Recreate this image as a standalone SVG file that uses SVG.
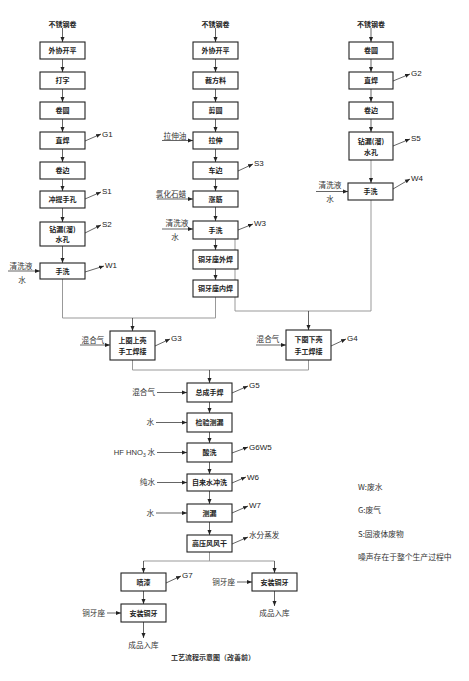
<svg xmlns="http://www.w3.org/2000/svg" width="469" height="681" viewBox="0 0 469 681">
<style>
.bx{fill:#fff;stroke:#222;stroke-width:1.1}
.t{font-family:"Noto Sans CJK SC","Liberation Sans",sans-serif;font-size:7px;font-weight:bold;text-anchor:middle;fill:#222}
.n{font-family:"Noto Sans CJK SC","Liberation Sans",sans-serif;font-size:7.6px;fill:#333}
.m{text-anchor:middle}
.e{text-anchor:end}
.g{font-family:"Liberation Sans","Noto Sans CJK SC",sans-serif;font-size:8px;fill:#222}
.a{stroke:#222;stroke-width:0.7;fill:none;marker-end:url(#ah)}
.l{stroke:#222;stroke-width:0.7;fill:none}
.r{stroke:#999;stroke-width:1;fill:none}
</style>
<defs>
<marker id="ah" markerWidth="6" markerHeight="6" refX="5" refY="3" orient="auto" markerUnits="userSpaceOnUse">
<path d="M0,1 L5,3 L0,5 Z" fill="#222"/>
</marker>
</defs>
<rect width="469" height="681" fill="#fff"/>

<g id="connectors">
<!-- column 1 -->
<line class="a" x1="62.5" y1="28" x2="62.5" y2="42"/>
<line class="a" x1="62.5" y1="59" x2="62.5" y2="72"/>
<line class="a" x1="62.5" y1="89" x2="62.5" y2="102"/>
<line class="a" x1="62.5" y1="119" x2="62.5" y2="132"/>
<line class="a" x1="62.5" y1="149" x2="62.5" y2="162"/>
<line class="a" x1="62.5" y1="179" x2="62.5" y2="191"/>
<line class="a" x1="62.5" y1="208" x2="62.5" y2="222"/>
<line class="a" x1="62.5" y1="246" x2="62.5" y2="263"/>
<line class="a" x1="85" y1="141" x2="101" y2="134"/>
<line class="a" x1="85" y1="199" x2="101" y2="192"/>
<line class="a" x1="85" y1="233" x2="101" y2="225"/>
<line class="a" x1="85" y1="272" x2="104" y2="266"/>
<line class="a" x1="8" y1="271" x2="40" y2="271"/>
<!-- column 2 -->
<line class="a" x1="215.5" y1="28" x2="215.5" y2="42"/>
<line class="a" x1="215.5" y1="59" x2="215.5" y2="72"/>
<line class="a" x1="215.5" y1="89" x2="215.5" y2="102"/>
<line class="a" x1="215.5" y1="119" x2="215.5" y2="132"/>
<line class="a" x1="215.5" y1="149" x2="215.5" y2="162"/>
<line class="a" x1="215.5" y1="179" x2="215.5" y2="191"/>
<line class="a" x1="215.5" y1="207" x2="215.5" y2="221"/>
<line class="a" x1="215.5" y1="239" x2="215.5" y2="250"/>
<line class="a" x1="215.5" y1="269" x2="215.5" y2="280"/>
<line class="a" x1="162" y1="140.5" x2="193" y2="140.5"/>
<line class="a" x1="157" y1="199" x2="193" y2="199"/>
<line class="a" x1="162" y1="229" x2="193" y2="229"/>
<line class="a" x1="238" y1="171" x2="253" y2="164"/>
<line class="a" x1="238" y1="230" x2="253" y2="224"/>
<!-- column 3 -->
<line class="a" x1="371" y1="28" x2="371" y2="42"/>
<line class="a" x1="371" y1="59" x2="371" y2="72"/>
<line class="a" x1="371" y1="89" x2="371" y2="102"/>
<line class="a" x1="371" y1="119" x2="371" y2="132"/>
<line class="r" x1="371" y1="160" x2="371" y2="179"/>
<line class="a" x1="371" y1="178" x2="371" y2="183"/>
<line class="a" x1="393" y1="81" x2="410" y2="74"/>
<line class="a" x1="393" y1="146" x2="410" y2="139"/>
<line class="a" x1="393" y1="189" x2="410" y2="179"/>
<line class="a" x1="316" y1="191.5" x2="348" y2="191.5"/>
<!-- routing to welds -->
<polyline class="r" points="62.5,279 62.5,318 215.5,318 215.5,297"/>
<line class="a" x1="132.5" y1="318" x2="132.5" y2="331"/>
<polyline class="r" points="235,239 235,311 371,311 371,200"/>
<line class="a" x1="308.5" y1="311" x2="308.5" y2="330"/>
<line class="a" x1="80" y1="345" x2="110" y2="345"/>
<line class="a" x1="256" y1="345" x2="286" y2="345"/>
<line class="a" x1="155" y1="346" x2="170" y2="339"/>
<line class="a" x1="331" y1="346" x2="346" y2="339"/>
<polyline class="r" points="132.5,360 132.5,370 308.5,370 308.5,360"/>
<line class="a" x1="209.5" y1="370" x2="209.5" y2="383"/>
<!-- main column -->
<line class="a" x1="209.5" y1="402" x2="209.5" y2="413"/>
<line class="a" x1="209.5" y1="432" x2="209.5" y2="443"/>
<line class="a" x1="209.5" y1="462" x2="209.5" y2="474"/>
<line class="a" x1="209.5" y1="491" x2="209.5" y2="504"/>
<line class="a" x1="209.5" y1="522" x2="209.5" y2="535"/>
<line class="a" x1="157" y1="392.5" x2="187" y2="392.5"/>
<line class="a" x1="156" y1="422.5" x2="187" y2="422.5"/>
<line class="a" x1="157" y1="452.5" x2="187" y2="452.5"/>
<line class="a" x1="157" y1="482.5" x2="187" y2="482.5"/>
<line class="a" x1="156" y1="513" x2="187" y2="513"/>
<line class="a" x1="232" y1="393" x2="248" y2="386"/>
<line class="a" x1="232" y1="453" x2="248" y2="447"/>
<line class="a" x1="232" y1="483" x2="246" y2="477"/>
<line class="a" x1="232" y1="513" x2="248" y2="506"/>
<line class="a" x1="232" y1="544" x2="248" y2="537"/>
<polyline class="r" points="209.5,552 209.5,561"/>
<line class="r" x1="143.5" y1="561" x2="274.5" y2="561"/>
<line class="a" x1="143.5" y1="561" x2="143.5" y2="573"/>
<line class="a" x1="274.5" y1="561" x2="274.5" y2="573"/>
<line class="a" x1="143.5" y1="591" x2="143.5" y2="604"/>
<line class="a" x1="143.5" y1="622" x2="143.5" y2="638"/>
<line class="a" x1="274.5" y1="591" x2="274.5" y2="606"/>
<line class="a" x1="166" y1="583" x2="181" y2="576"/>
<line class="a" x1="237" y1="582" x2="252" y2="582"/>
<line class="a" x1="107" y1="613" x2="121" y2="613"/>
</g>

<!-- column 1 -->
<text class="t" x="62.5" y="26.5">不锈钢卷</text>
<g id="c1n1"><rect class="bx" x="40" y="42" width="45" height="17"/><text class="t" x="62.5" y="53">外协开平</text></g>
<g id="c1n2"><rect class="bx" x="40" y="72" width="45" height="17"/><text class="t" x="62.5" y="83">打字</text></g>
<g id="c1n3"><rect class="bx" x="40" y="102" width="45" height="17"/><text class="t" x="62.5" y="113">卷圆</text></g>
<g id="c1n4"><rect class="bx" x="40" y="132" width="45" height="17"/><text class="t" x="62.5" y="143">直焊</text></g>
<g id="c1n5"><rect class="bx" x="40" y="162" width="45" height="17"/><text class="t" x="62.5" y="173">卷边</text></g>
<g id="c1n6"><rect class="bx" x="40" y="191" width="45" height="17"/><text class="t" x="62.5" y="202">冲提手孔</text></g>
<g id="c1n7"><rect class="bx" x="40" y="222" width="45" height="24"/><text class="t" x="62.5" y="232">钻漏(溜)</text><text class="t" x="62.5" y="242">水孔</text></g>
<g id="c1n8"><rect class="bx" x="40" y="263" width="45" height="16"/><text class="t" x="62.5" y="273.5">手洗</text></g>
<text class="g" x="102" y="137">G1</text>
<text class="g" x="102" y="194">S1</text>
<text class="g" x="102" y="227">S2</text>
<text class="g" x="105" y="268">W1</text>
<text class="n m" x="21" y="269">清洗液</text>
<text class="n m" x="22" y="283">水</text>

<!-- column 2 -->
<text class="t" x="215.5" y="26.5">不锈钢卷</text>
<g id="c2n1"><rect class="bx" x="193" y="42" width="45" height="17"/><text class="t" x="215.5" y="53">外协开平</text></g>
<g id="c2n2"><rect class="bx" x="193" y="72" width="45" height="17"/><text class="t" x="215.5" y="83">裁方料</text></g>
<g id="c2n3"><rect class="bx" x="193" y="102" width="45" height="17"/><text class="t" x="215.5" y="113">剪圆</text></g>
<g id="c2n4"><rect class="bx" x="193" y="132" width="45" height="17"/><text class="t" x="215.5" y="143">拉伸</text></g>
<g id="c2n5"><rect class="bx" x="193" y="162" width="45" height="17"/><text class="t" x="215.5" y="173">车边</text></g>
<g id="c2n6"><rect class="bx" x="193" y="191" width="45" height="16"/><text class="t" x="215.5" y="201.5">涨筋</text></g>
<g id="c2n7"><rect class="bx" x="193" y="221" width="45" height="18"/><text class="t" x="215.5" y="232.5">手洗</text></g>
<g id="c2n8"><rect class="bx" x="193" y="250" width="45" height="19"/><text class="t" x="215.5" y="262">铜牙座外焊</text></g>
<g id="c2n9"><rect class="bx" x="193" y="280" width="45" height="17"/><text class="t" x="215.5" y="291">铜牙座内焊</text></g>
<text class="n m" x="175" y="138.5">拉伸油</text>
<text class="n m" x="171" y="196.5">氯化石蜡</text>
<text class="n m" x="177" y="226">清洗液</text>
<text class="n m" x="175" y="240">水</text>
<text class="g" x="254" y="166">S3</text>
<text class="g" x="254" y="226">W3</text>

<!-- column 3 -->
<text class="t" x="371" y="26.5">不锈钢卷</text>
<g id="c3n1"><rect class="bx" x="349" y="42" width="44" height="17"/><text class="t" x="371" y="53">卷圆</text></g>
<g id="c3n2"><rect class="bx" x="349" y="72" width="44" height="17"/><text class="t" x="371" y="83">直焊</text></g>
<g id="c3n3"><rect class="bx" x="349" y="102" width="44" height="17"/><text class="t" x="371" y="113">卷边</text></g>
<g id="c3n4"><rect class="bx" x="349" y="132" width="44" height="28"/><text class="t" x="371" y="144">钻漏(溜)</text><text class="t" x="371" y="155">水孔</text></g>
<g id="c3n5"><rect class="bx" x="348" y="183" width="45" height="17"/><text class="t" x="370.5" y="194">手洗</text></g>
<text class="g" x="411" y="76">G2</text>
<text class="g" x="411" y="141">S5</text>
<text class="g" x="411" y="181">W4</text>
<text class="n m" x="330" y="188">清洗液</text>
<text class="n m" x="330" y="202">水</text>

<!-- welds -->
<g id="w1"><rect class="bx" x="110" y="331" width="45" height="29"/><text class="t" x="132.5" y="343">上圈上壳</text><text class="t" x="132.5" y="354">手工焊接</text></g>
<g id="w2"><rect class="bx" x="286" y="330" width="45" height="30"/><text class="t" x="308.5" y="342">下圈下壳</text><text class="t" x="308.5" y="354">手工焊接</text></g>
<text class="n m" x="93" y="342.5">混合气</text>
<text class="n m" x="268" y="341.5">混合气</text>
<text class="g" x="171" y="341">G3</text>
<text class="g" x="347" y="341">G4</text>

<!-- main column -->
<g id="m1"><rect class="bx" x="187" y="383" width="45" height="19"/><text class="t" x="209.5" y="395">总成手焊</text></g>
<g id="m2"><rect class="bx" x="187" y="413" width="45" height="19"/><text class="t" x="209.5" y="425">检验测漏</text></g>
<g id="m3"><rect class="bx" x="187" y="443" width="45" height="19"/><text class="t" x="209.5" y="455">酸洗</text></g>
<g id="m4"><rect class="bx" x="187" y="474" width="45" height="17"/><text class="t" x="209.5" y="485">自来水冲洗</text></g>
<g id="m5"><rect class="bx" x="187" y="504" width="45" height="18"/><text class="t" x="209.5" y="515.5">测漏</text></g>
<g id="m6"><rect class="bx" x="187" y="535" width="45" height="17"/><text class="t" x="209.5" y="546">高压风风干</text></g>
<text class="n e" x="155" y="395">混合气</text>
<text class="n e" x="154" y="425">水</text>
<text class="n e" x="155" y="455"><tspan font-family="Liberation Sans,sans-serif">HF  HNO</tspan><tspan font-family="Liberation Sans,sans-serif" font-size="5" dy="1.5">3</tspan><tspan dy="-1.5"> 水</tspan></text>
<text class="n e" x="155" y="485">纯水</text>
<text class="n e" x="154" y="515.5">水</text>
<text class="g" x="249" y="388">G5</text>
<text class="g" x="249" y="450">G6W5</text>
<text class="g" x="247" y="480">W6</text>
<text class="g" x="249" y="508">W7</text>
<text class="n" x="249" y="538">水分蒸发</text>

<!-- finishing -->
<g id="f1"><rect class="bx" x="121" y="573" width="45" height="18"/><text class="t" x="143.5" y="584.5">喷漆</text></g>
<g id="f2"><rect class="bx" x="121" y="604" width="45" height="18"/><text class="t" x="143.5" y="615.5">安装铜牙</text></g>
<g id="f3"><rect class="bx" x="252" y="573" width="45" height="18"/><text class="t" x="274.5" y="584.5">安装铜牙</text></g>
<text class="g" x="182" y="578">G7</text>
<text class="n e" x="235" y="584.5">铜牙座</text>
<text class="n e" x="105" y="615.5">铜牙座</text>
<text class="n m" x="143.5" y="648">成品入库</text>
<text class="n m" x="274.5" y="616">成品入库</text>
<text class="n m" x="213" y="659.5" style="font-weight:bold;font-size:7px">工艺流程示意图（改善前）</text>

<!-- legend -->
<text class="n" x="358" y="490" style="font-size:7.8px">W:废水</text>
<text class="n" x="358" y="513" style="font-size:7.8px">G:废气</text>
<text class="n" x="358" y="537" style="font-size:7.8px">S:固液体废物</text>
<text class="n" x="358" y="560" style="font-size:7.8px">噪声存在于整个生产过程中</text>
</svg>
